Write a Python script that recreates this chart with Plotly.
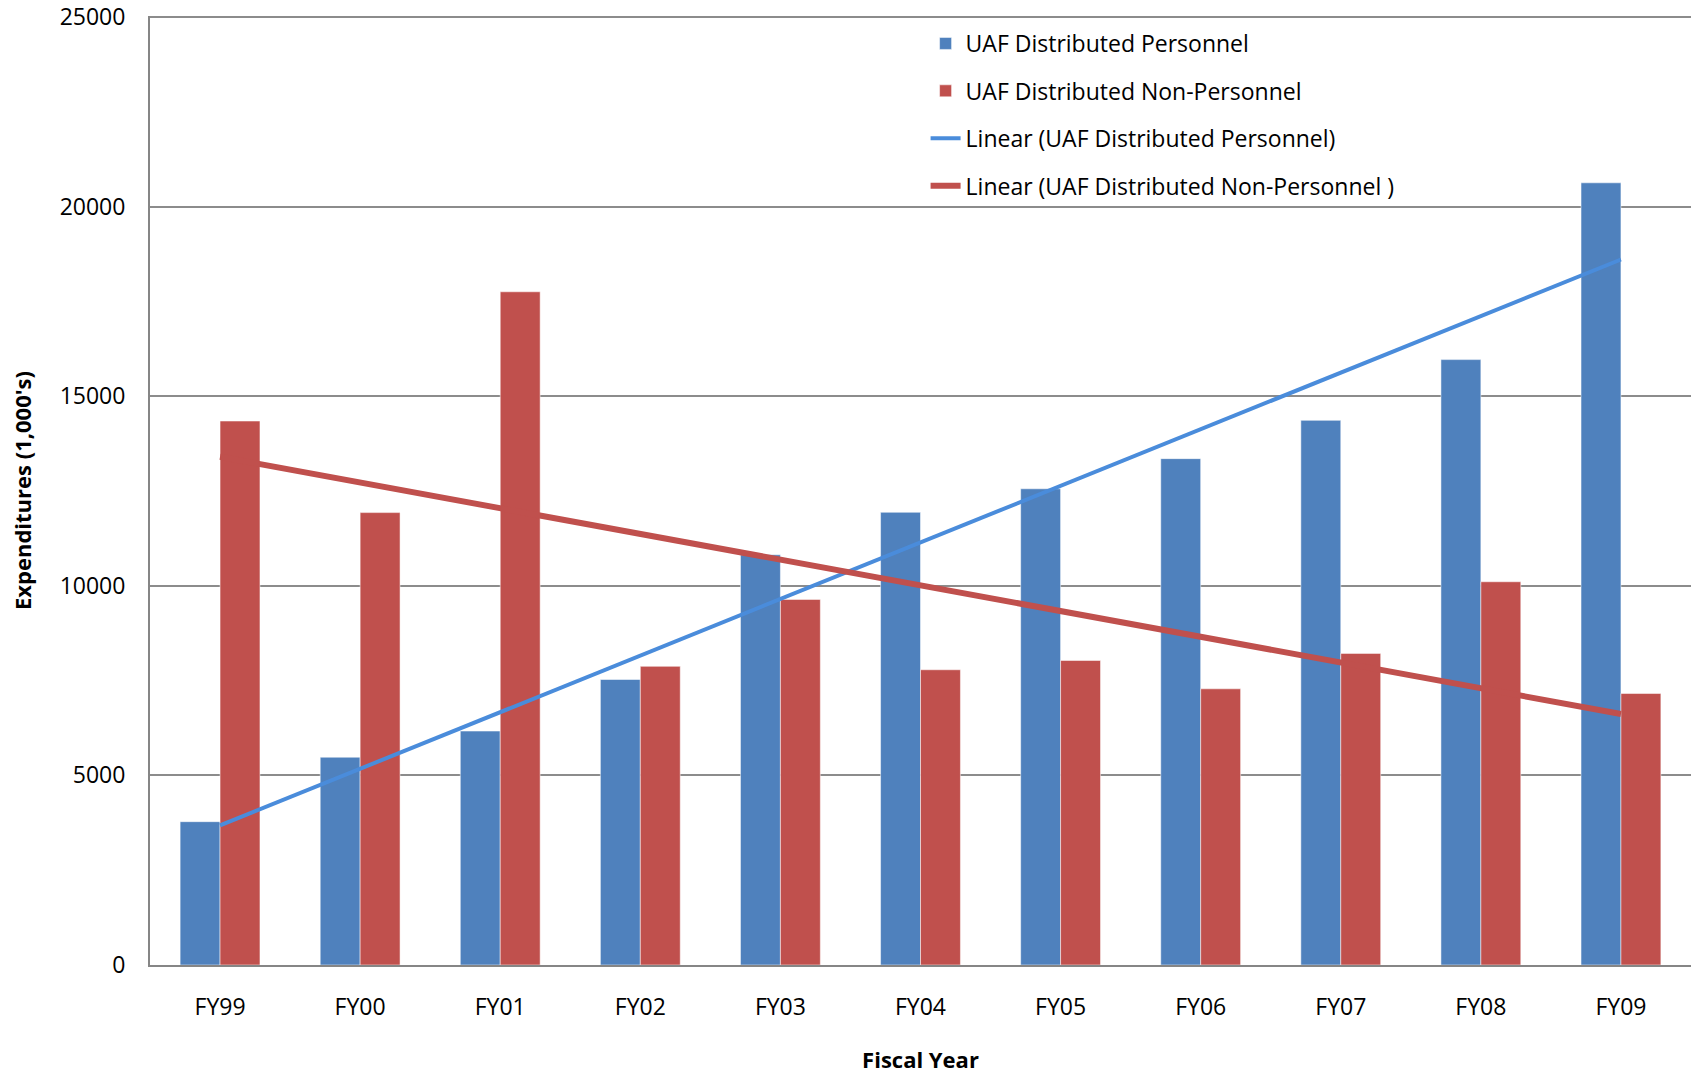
import numpy as np
import plotly.graph_objects as go

years = ["FY99", "FY00", "FY01", "FY02", "FY03", "FY04", "FY05", "FY06", "FY07", "FY08", "FY09"]
personnel = [3780, 5480, 6170, 7530, 10820, 11940, 12560, 13355, 14365, 15967, 20630]
non_personnel = [14347, 11932, 17756, 7877, 9642, 7787, 8032, 7284, 8219, 10108, 7160]
y_ticks = [0, 5000, 10000, 15000, 20000, 25000]

BLUE = "#4F81BD"
RED = "#C0504D"
BLUE_TREND = "#4A8CDB"
RED_TREND = "#C0504D"
FONT = "Open Sans"

xi = np.arange(len(years))
p_fit = np.polyval(np.polyfit(xi, personnel, 1), xi)
n_fit = np.polyval(np.polyfit(xi, non_personnel, 1), xi)

fig = go.Figure()
fig.add_trace(go.Bar(x=years, y=personnel, name="UAF Distributed Personnel",
                     marker=dict(color=BLUE, line=dict(color="rgba(255,255,255,0.5)", width=1)),
                     legendgroup="a"))
fig.add_trace(go.Bar(x=years, y=non_personnel, name="UAF Distributed Non-Personnel",
                     marker=dict(color=RED, line=dict(color="rgba(255,255,255,0.5)", width=1)),
                     legendgroup="b"))
fig.add_trace(go.Scatter(x=years, y=p_fit, mode="lines", name="Linear (UAF Distributed Personnel)",
                         line=dict(color=BLUE_TREND, width=4), legendgroup="c"))
fig.add_trace(go.Scatter(x=years, y=n_fit, mode="lines", name="Linear (UAF Distributed Non-Personnel )",
                         line=dict(color=RED_TREND, width=6), legendgroup="d"))

fig.update_layout(
    width=1691, height=1075,
    margin=dict(l=150, r=0, t=16, b=110),
    paper_bgcolor="white", plot_bgcolor="white",
    font=dict(family=FONT, size=23, color="black"),
    barmode="group", bargap=0.43, bargroupgap=0,
    showlegend=True,
    legend=dict(x=0.5033, y=0.9937, xanchor="left", yanchor="top",
                bgcolor="rgba(0,0,0,0)", font=dict(family=FONT, size=23),
                tracegroupgap=14.5, traceorder="grouped"),
)
fig.update_xaxes(
    type="category", range=[-0.5, 10.5], automargin=False,
    showline=True, linecolor="#868686", linewidth=2,
    showgrid=False, ticks="outside", ticklen=20, tickcolor="rgba(0,0,0,0)",
    tickfont=dict(family=FONT, size=23),
    title=dict(text="<b>Fiscal Year</b>", font=dict(family=FONT, size=22), standoff=32),
)
fig.update_yaxes(
    range=[0, 25030], tickmode="array", tickvals=y_ticks, ticktext=[str(v) for v in y_ticks],
    automargin=False,
    showline=True, linecolor="#868686", linewidth=2,
    showgrid=True, gridcolor="#8C8C8C", gridwidth=2, zeroline=False,
    ticks="outside", ticklen=18, tickcolor="rgba(0,0,0,0)",
    tickfont=dict(family=FONT, size=23),
    title=dict(text="<b>Expenditures (1,000's)</b>", font=dict(family=FONT, size=22), standoff=21.5),
)

fig.write_html(
    "out.html",
    config={"displayModeBar": False},
    post_script="document.body.style.margin='0';document.body.style.overflow='hidden';",
)
